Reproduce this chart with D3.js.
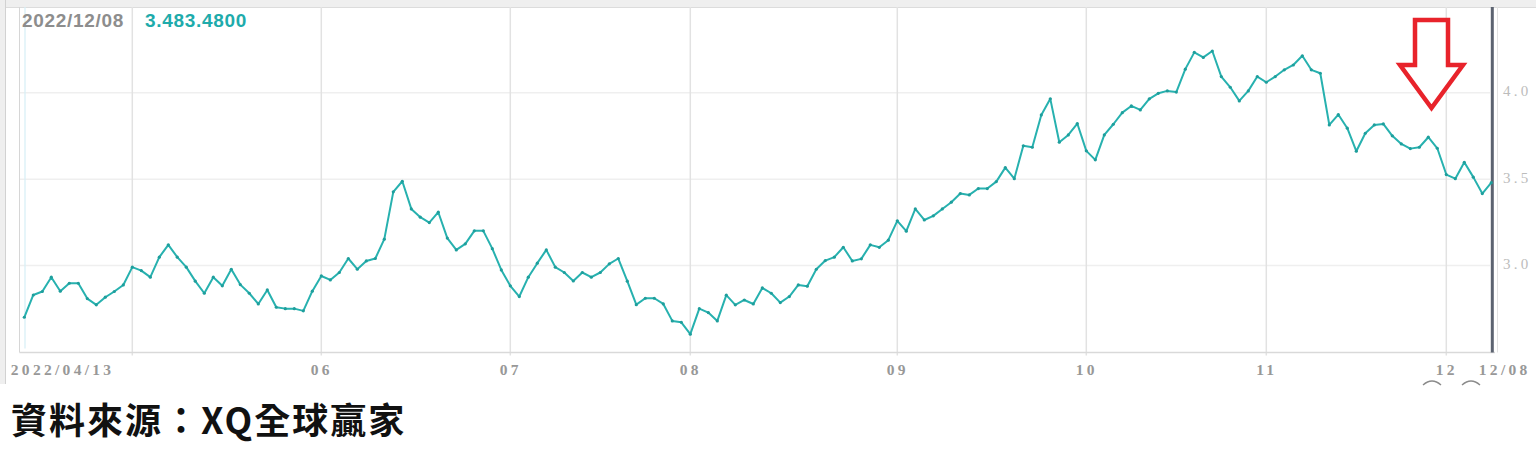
<!DOCTYPE html>
<html>
<head>
<meta charset="utf-8">
<script src="https://cdn.jsdelivr.net/npm/d3@7"></script>
<style>
  html, body { margin: 0; padding: 0; background: #fff; }
  svg { display: block; }
</style>
</head>
<body>
<svg id="chart" width="1536" height="466"></svg>
<script>
// ---- data ----
const values = [2.701,2.830,2.850,2.933,2.852,2.898,2.898,2.809,2.773,2.817,
2.850,2.888,2.991,2.971,2.933,3.049,3.120,3.049,2.991,2.910,
2.840,2.933,2.883,2.979,2.890,2.840,2.778,2.859,2.759,2.751,
2.751,2.738,2.852,2.940,2.917,2.960,3.041,2.979,3.027,3.041,
3.153,3.427,3.488,3.328,3.280,3.249,3.309,3.159,3.091,3.126,
3.201,3.201,3.098,2.975,2.883,2.821,2.933,3.014,3.091,2.991,
2.960,2.911,2.960,2.933,2.960,3.010,3.041,2.910,2.774,2.811,
2.811,2.778,2.680,2.672,2.603,2.751,2.728,2.680,2.829,2.773,
2.801,2.778,2.871,2.840,2.786,2.821,2.888,2.881,2.979,3.029,
3.049,3.106,3.027,3.039,3.120,3.106,3.147,3.259,3.199,3.328,
3.264,3.288,3.328,3.367,3.417,3.409,3.446,3.446,3.486,3.567,
3.503,3.693,3.685,3.872,3.965,3.714,3.756,3.822,3.664,3.612,
3.756,3.818,3.885,3.924,3.901,3.965,3.997,4.011,4.004,4.137,
4.234,4.205,4.242,4.094,4.032,3.953,4.011,4.094,4.061,4.094,
4.133,4.161,4.214,4.133,4.113,3.814,3.874,3.795,3.662,3.766,
3.814,3.820,3.751,3.704,3.677,3.685,3.743,3.679,3.527,3.503,
3.598,3.512,3.417,3.480];
const monthStartIdx = [12, 33, 54, 74, 97, 118, 138, 158];      // first trading day of May..Dec
const monthLabels   = ["", "06", "07", "08", "09", "10", "11", "12"];
const firstDateLabel = "2022/04/13";
const lastDateLabel  = "12/08";
const yTicks = [3.0, 3.5, 4.0];
const headerDate = "2022/12/08";
const headerValue = "3.483.4800";
const sourceText = "資料來源：XQ全球贏家";

// ---- layout ----
const svg = d3.select("#chart");
const n = values.length;
const x = d3.scaleLinear().domain([0, n - 1]).range([24.3, 1491.3]);
const y = d3.scaleLinear().domain([3.0, 4.0]).range([265.6, 92.8]);
const plotTop = 7, plotBottom = 352.5;

// frame / chrome
svg.append("rect").attr("x", 0).attr("y", 0).attr("width", 1536).attr("height", 7).attr("fill", "#efefef");
svg.append("line").attr("x1", 0).attr("x2", 1536).attr("y1", 7.5).attr("y2", 7.5).attr("stroke", "#dcdcdc");
svg.append("rect").attr("x", 0).attr("y", 0).attr("width", 5.5).attr("height", 384).attr("fill", "#efefef");
svg.append("line").attr("x1", 5.5).attr("x2", 5.5).attr("y1", 0).attr("y2", 384).attr("stroke", "#d2d2d2");
svg.append("line").attr("x1", 19.5).attr("x2", 19.5).attr("y1", plotTop).attr("y2", plotBottom).attr("stroke", "#d6d6d6");
svg.append("line").attr("x1", 1497.5).attr("x2", 1497.5).attr("y1", plotTop).attr("y2", plotBottom).attr("stroke", "#e2e2e2");

// horizontal grid
svg.append("g").selectAll("line").data(yTicks).join("line")
  .attr("x1", 20).attr("x2", 1490)
  .attr("y1", d => y(d)).attr("y2", d => y(d))
  .attr("stroke", "#efefef").attr("stroke-width", 1.5);

// vertical month grid
svg.append("g").selectAll("line").data(monthStartIdx).join("line")
  .attr("x1", d => x(d)).attr("x2", d => x(d))
  .attr("y1", plotTop).attr("y2", plotBottom + 3)
  .attr("stroke", "#e2e2e2").attr("stroke-width", 1.5);

// x axis baseline
svg.append("line").attr("x1", 19.5).attr("x2", 1495).attr("y1", plotBottom).attr("y2", plotBottom)
  .attr("stroke", "#d9d9d9").attr("stroke-width", 1.5);

// cursor line at first point
svg.append("line").attr("x1", x(0) + 0.7).attr("x2", x(0) + 0.7).attr("y1", plotTop).attr("y2", plotBottom - 4)
  .attr("stroke", "#d6eef6").attr("stroke-width", 1.2);

// dark right marker line
svg.append("line").attr("x1", x(n - 1) + 1).attr("x2", x(n - 1) + 1).attr("y1", plotTop).attr("y2", plotBottom)
  .attr("stroke", "#5c6370").attr("stroke-width", 3);

// price line
const line = d3.line().x((d, i) => x(i)).y(d => y(d));
svg.append("path").datum(values).attr("d", line)
  .attr("fill", "none").attr("stroke", "#27b1af").attr("stroke-width", 2)
  .attr("stroke-linejoin", "round");
svg.append("g").selectAll("circle").data(values).join("circle")
  .attr("cx", (d, i) => x(i)).attr("cy", d => y(d)).attr("r", 1.6).attr("fill", "#1f9e9c");

// right y axis
const yAxis = d3.axisRight(y).tickValues(yTicks).tickSize(0).tickPadding(0).tickFormat(d3.format(".1f"));
const gy = svg.append("g").attr("transform", "translate(1503,0)").call(yAxis);
gy.select(".domain").remove();
gy.selectAll("text")
  .attr("fill", "#bcbcbc").attr("font-family", "Liberation Serif").attr("font-size", 15)
  .attr("letter-spacing", "3.2px").attr("dy", "0.2em");

// bottom x axis
const tickIdx = [0].concat(monthStartIdx.slice(1), [n - 1]);
const tickText = [firstDateLabel].concat(monthLabels.slice(1), [lastDateLabel]);
const xAxis = d3.axisBottom(x).tickValues(tickIdx).tickSize(0).tickPadding(0)
  .tickFormat((d, i) => tickText[i]);
const gx = svg.append("g").attr("transform", "translate(0,364)").call(xAxis);
gx.select(".domain").remove();
gx.selectAll("text")
  .attr("fill", "#989898").attr("font-family", "Liberation Serif").attr("font-weight", "bold")
  .attr("font-size", 15.5).attr("letter-spacing", "3.3px").attr("dy", "0.72em");
gx.selectAll(".tick").filter((d, i) => i === 0).select("text")
  .attr("text-anchor", "start").attr("x", -14);
gx.selectAll(".tick").filter((d, i) => i === tickIdx.length - 1).select("text")
  .attr("text-anchor", "start").attr("x", -13);

// little cut-off icons under the last labels
svg.append("g").selectAll("path").data([1432, 1471]).join("path")
  .attr("d", d => `M${d - 9},385 Q${d},377 ${d + 9},385`)
  .attr("fill", "none").attr("stroke", "#8a8a8a").attr("stroke-width", 1.4);

// header
svg.append("text").attr("x", 22).attr("y", 26.5).text(headerDate)
  .attr("font-family", "Liberation Sans").attr("font-weight", "bold").attr("font-size", 19)
  .attr("letter-spacing", "0.7px").attr("fill", "#8d8d8d");
svg.append("text").attr("x", 145).attr("y", 26.5).text(headerValue)
  .attr("font-family", "Liberation Sans").attr("font-weight", "bold").attr("font-size", 19)
  .attr("letter-spacing", "0.7px").attr("fill", "#1eabab");

// red arrow annotation
svg.append("path")
  .attr("d", "M1415,20 L1448,20 L1448,65 L1463,65 L1431.5,108 L1400,65 L1415,65 Z")
  .attr("fill", "#fff").attr("stroke", "#e8232b").attr("stroke-width", 4.5)
  .attr("stroke-linejoin", "miter");

// source
svg.append("text").attr("x", 11).attr("y", 434).text(sourceText)
  .attr("font-family", "Noto Sans CJK TC").attr("font-weight", "bold").attr("font-size", 36)
  .attr("letter-spacing", "2px").attr("fill", "#111");
</script>
</body>
</html>
